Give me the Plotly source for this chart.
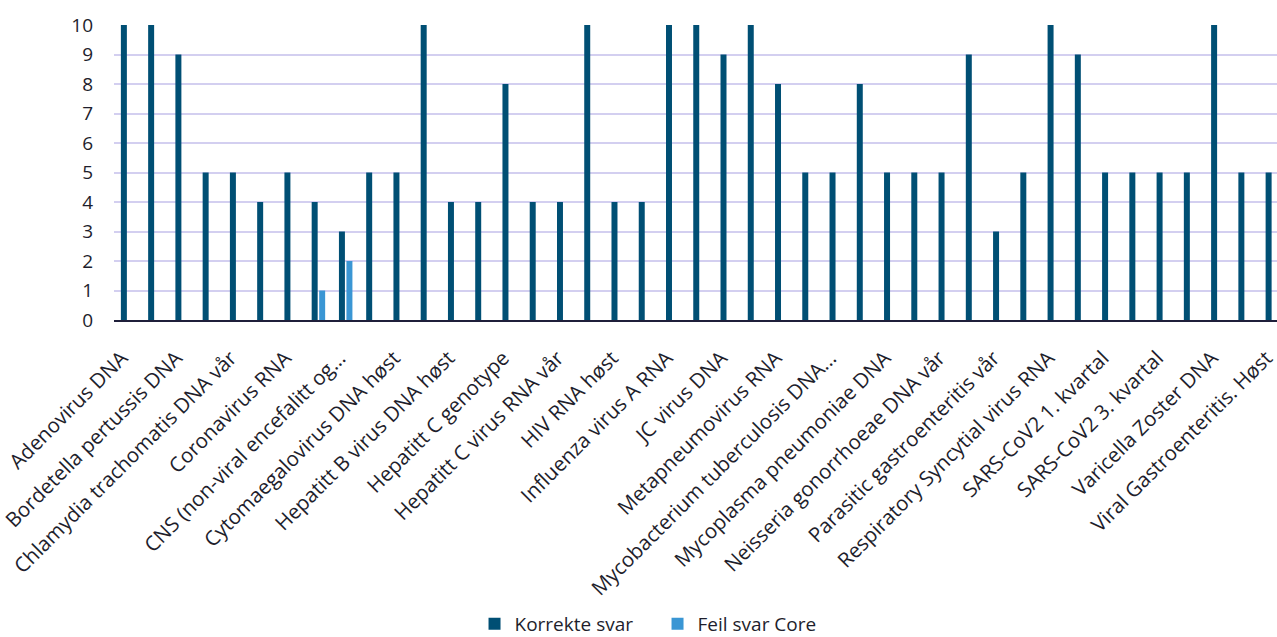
import plotly.graph_objects as go

categories = [
    "Adenovirus DNA", "BK virus DNA", "Bordetella pertussis DNA", "Chlamydia trachomatis DNA høst",
    "Chlamydia trachomatis DNA vår", "Chlamydia/Gonoré DNA", "Coronavirus RNA", "Coronavirus RNA høst",
    "CNS (non-viral encefalitt og...", "Cytomaegalovirus DNA vår", "Cytomaegalovirus DNA høst", "Enterovirus RNA",
    "Hepatitt B virus DNA høst", "Hepatitt B virus DNA vår", "Hepatitt C genotype", "Hepatitt C virus RNA høst",
    "Hepatitt C virus RNA vår", "Herpes simplex virus DNA", "HIV RNA høst", "HIV RNA vår",
    "Influenza virus A RNA", "Influenza virus B RNA", "JC virus DNA", "Legionella DNA",
    "Metapneumovirus RNA", "Mycobacterium tuberculosis DNA høst", "Mycobacterium tuberculosis DNA...", "Mycoplasma genitalium DNA",
    "Mycoplasma pneumoniae DNA", "Neisseria gonorrhoeae DNA høst", "Neisseria gonorrhoeae DNA vår", "Parasitic gastroenteritis høst",
    "Parasitic gastroenteritis vår", "Parvovirus B19 DNA", "Respiratory Syncytial virus RNA", "SARS-CoV2 4. kvartal",
    "SARS-CoV2 1. kvartal", "SARS-CoV2 2. kvartal", "SARS-CoV2 3. kvartal", "Toxoplasma gondii DNA",
    "Varicella Zoster DNA", "Viral Gastroenteritis. Vår", "Viral Gastroenteritis. Høst",
]

korrekte_svar = [10, 10, 9, 5, 5, 4, 5, 4, 3, 5, 5, 10, 4, 4, 8, 4, 4, 10, 4, 4, 10, 10,
                 9, 10, 8, 5, 5, 8, 5, 5, 5, 9, 3, 5, 10, 9, 5, 5, 5, 5, 10, 5, 5]
feil_svar_core = [0, 0, 0, 0, 0, 0, 0, 1, 2, 0, 0, 0, 0, 0, 0, 0, 0, 0, 0, 0, 0, 0,
                  0, 0, 0, 0, 0, 0, 0, 0, 0, 0, 0, 0, 0, 0, 0, 0, 0, 0, 0, 0, 0]

tick_labels = categories[::2]
y_ticks = list(range(0, 11))

FONT = "Open Sans"
TXT = "#1e1e2c"

fig = go.Figure()
fig.add_trace(go.Bar(x=categories, y=korrekte_svar, name="Korrekte svar",
                     marker=dict(color="#004f74", line=dict(width=0))))
fig.add_trace(go.Bar(x=categories, y=feil_svar_core, name="Feil svar Core",
                     marker=dict(color="#3a96d4", line=dict(width=0))))

fig.update_layout(
    width=1277, height=637,
    margin=dict(l=114, r=0, t=25, b=317, autoexpand=False),
    paper_bgcolor="white", plot_bgcolor="white",
    barmode="group", bargap=0.45, bargroupgap=0.2,
    font=dict(family=FONT, color=TXT, size=18),
    showlegend=True,
    legend=dict(orientation="h", x=0.31, xanchor="left", y=-1.03, yanchor="middle",
                font=dict(size=19, color=TXT), itemwidth=30, traceorder="normal",
                entrywidth=138, entrywidthmode="pixels"),
    xaxis=dict(
        type="category", categoryorder="array", categoryarray=categories,
        range=[-0.5, 42.17], automargin=False,
        tickmode="array", tickvals=tick_labels, ticktext=tick_labels,
        tickangle=-45, tickfont=dict(size=20.5, color=TXT),
        showline=True, linecolor="#1f1f3a", linewidth=2,
        showgrid=False, ticks="", ticklabelshift=-6, ticklabelstandoff=16,
    ),
    yaxis=dict(
        range=[0, 10], tickmode="array", tickvals=y_ticks, automargin=False,
        showgrid=True, gridcolor="#d3cff0", gridwidth=1.5,
        zeroline=False, showline=False, ticks="",
        tickfont=dict(size=19, color=TXT), ticklabelstandoff=20,
    ),
)

fig.write_html("out.html")
